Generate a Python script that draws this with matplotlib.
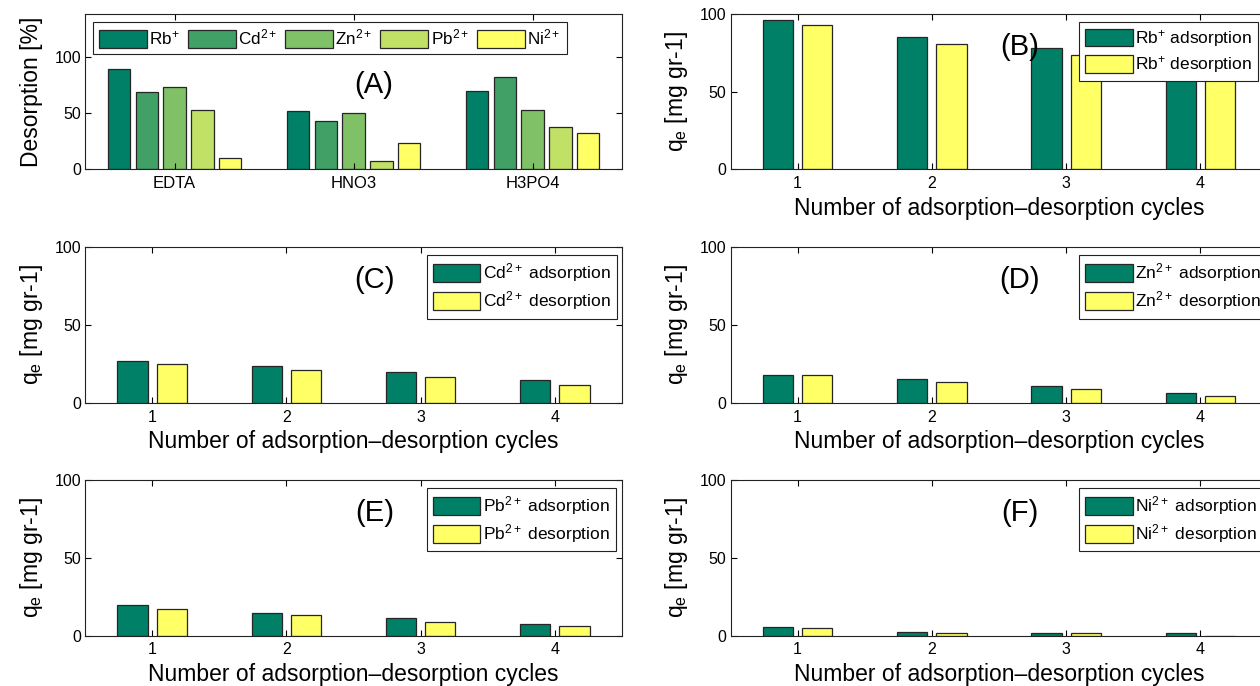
import numpy as np
import matplotlib
matplotlib.use("Agg")
import matplotlib.pyplot as plt

plt.rcParams['font.family'] = ['Liberation Sans', 'DejaVu Sans']
plt.rcParams['mathtext.fontset'] = 'custom'
plt.rcParams['mathtext.rm'] = 'Liberation Sans'
plt.rcParams['mathtext.it'] = 'Liberation Sans'
plt.rcParams['mathtext.bf'] = 'Liberation Sans:bold'

# panel A: desorption percentage per eluent
eluents = ['EDTA', 'HNO3', 'H3PO4']
ion_labels = [r'Rb$^{+}$', r'Cd$^{2+}$', r'Zn$^{2+}$', r'Pb$^{2+}$', r'Ni$^{2+}$']
rb_desorp = [89, 52, 70]
cd_desorp = [69, 43, 82]
zn_desorp = [73, 50, 53]
pb_desorp = [53, 7, 37.5]
ni_desorp = [10, 23, 32]

# panels B-F: adsorption / desorption over cycles
cycles = [1, 2, 3, 4]
rb_ads = [96, 85, 78, 70]
rb_des = [92.5, 80.5, 73.5, 66]
cd_ads = [27, 23.5, 19.5, 14.5]
cd_des = [25, 21, 16.5, 11.5]
zn_ads = [18, 15, 10.5, 6]
zn_des = [17.5, 13.5, 8.5, 4.5]
pb_ads = [19.5, 14.5, 11, 7.5]
pb_des = [17, 13.5, 9, 6]
ni_ads = [5.2, 2.1, 1.5, 1.4]
ni_des = [4.6, 1.3, 1.4, 0]

summer = plt.get_cmap('summer')
ion_colors = [summer(v) for v in np.linspace(0, 1, 5)]
dark = summer(0.0)
yellow = summer(1.0)
edge = '#262626'

fig = plt.figure(figsize=(12.6, 6.86), dpi=100)
W, H = 0.4262, 0.2267
lefts = [0.0675, 0.5798]
bottoms = [0.7532, 0.4130, 0.0736]


def style_axes(ax):
    ax.tick_params(direction='in', length=4, width=0.8, top=True, right=True,
                   labelsize=11.5)
    ax.tick_params(axis='x', pad=5)
    ax.tick_params(axis='y', pad=3)
    for s in ax.spines.values():
        s.set_linewidth(0.8)
        s.set_color('#222222')


# (A)
axA = fig.add_axes([lefts[0], bottoms[0], W, H])
x = np.arange(1, len(eluents) + 1)
series = [rb_desorp, cd_desorp, zn_desorp, pb_desorp, ni_desorp]
offsets = [-0.31, -0.155, 0, 0.155, 0.31]
for vals, off, c, lab in zip(series, offsets, ion_colors, ion_labels):
    axA.bar(x + off, vals, width=0.126, color=c, edgecolor=edge, linewidth=0.9,
            label=lab)
axA.set_xlim(0.5, 3.5)
axA.set_ylim(0, 138.5)
axA.set_xticks(x)
axA.set_xticklabels(eluents)
axA.set_yticks([0, 50, 100])
style_axes(axA)
axA.tick_params(axis='x', labelsize=12)
axA.set_ylabel('Desorption [%]', fontsize=16.5, labelpad=8)
axA.text(0.538, 0.543, '(A)', transform=axA.transAxes, fontsize=21,
         ha='center', va='center')
legA = axA.legend(loc='upper left', bbox_to_anchor=(0.015, 0.948), ncol=5,
                  fontsize=12.3, handlelength=2.8, handleheight=1.2,
                  handletextpad=0.15, columnspacing=0.45, borderpad=0.35,
                  borderaxespad=0, fancybox=False, framealpha=1)
legA.get_frame().set_edgecolor('#222222')
legA.get_frame().set_linewidth(0.8)

# (B)-(F)
panels = [
    ('(B)', 'Rb$^{+}$', rb_ads, rb_des, 1, 0),
    ('(C)', 'Cd$^{2+}$', cd_ads, cd_des, 0, 1),
    ('(D)', 'Zn$^{2+}$', zn_ads, zn_des, 1, 1),
    ('(E)', 'Pb$^{2+}$', pb_ads, pb_des, 0, 2),
    ('(F)', 'Ni$^{2+}$', ni_ads, ni_des, 1, 2),
]
cx = np.array(cycles)
for tag, ion, ads, des, col, row in panels:
    ax = fig.add_axes([lefts[col], bottoms[row], W, H])
    ax.bar(cx - 0.146, ads, width=0.225, color=dark, edgecolor=edge,
           linewidth=0.9, label=ion + ' adsorption')
    ax.bar(cx + 0.146, des, width=0.225, color=yellow, edgecolor=edge,
           linewidth=0.9, label=ion + ' desorption')
    ax.set_xlim(0.5, 4.5)
    ax.set_ylim(0, 100)
    ax.set_xticks(cx)
    ax.set_yticks([0, 50, 100])
    style_axes(ax)
    ax.set_xlabel('Number of adsorption\u2013desorption cycles', fontsize=16.5,
                  labelpad=4)
    ax.set_ylabel(r'q$_{\mathrm{e}}$ [mg gr-1]', fontsize=16.5, labelpad=7)
    ax.text(0.539, 0.787, tag, transform=ax.transAxes, fontsize=21,
            ha='center', va='center')
    lx = 0.636 if col == 0 else 0.649
    leg = ax.legend(loc='upper left', bbox_to_anchor=(lx, 0.947),
                    fontsize=12.5, handlelength=2.75, handleheight=1.2,
                    handletextpad=0.15, labelspacing=0.3, borderpad=0.35,
                    borderaxespad=0, fancybox=False, framealpha=1)
    leg.get_frame().set_edgecolor('#222222')
    leg.get_frame().set_linewidth(0.8)

fig.savefig('out.png', dpi=100)
